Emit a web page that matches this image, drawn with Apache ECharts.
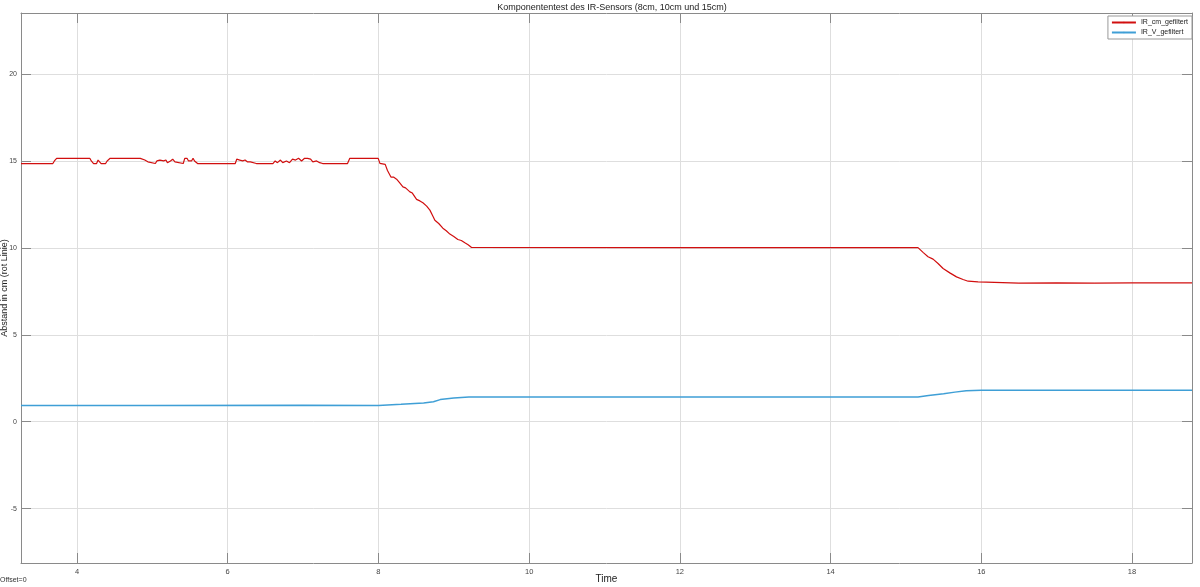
<!DOCTYPE html>
<html>
<head>
<meta charset="utf-8">
<script src="https://cdn.jsdelivr.net/npm/echarts@6/dist/echarts.min.js"></script>
<style>
html,body{margin:0;padding:0;background:#fff;}
#chart{width:1200px;height:587px;}
</style>
</head>
<body>
<div id="chart"></div>
<script>
const titleText = 'Komponententest des IR-Sensors (8cm, 10cm und 15cm)';
const xTicks = [4, 6, 8, 10, 12, 14, 16, 18];
const yTicks = [-5, 0, 5, 10, 15, 20];
const xRange = [3.257, 18.796];
const yRange = [-8.13, 23.51];

const seriesNames = ['IR_cm_gefiltert', 'IR_V_gefiltert'];

const irCm = [
  [3.257,14.85],[3.68,14.85],[3.70,15.0],[3.73,15.15],[4.17,15.15],[4.19,15.0],[4.22,14.85],[4.26,14.85],
  [4.28,15.05],[4.30,15.05],[4.32,14.85],[4.38,14.85],[4.40,15.0],[4.42,14.9],[4.44,15.15],[4.84,15.15],
  [4.86,15.1],[4.90,15.05],[4.92,15.1],[4.94,14.95],[4.96,14.85],[5.04,14.85],[5.06,15.0],[5.08,14.95],
  [5.10,15.05],[5.12,14.95],[5.15,15.0],[5.18,15.05],[5.20,14.9],[5.24,15.0],[5.27,15.1],[5.30,14.95],
  [5.32,14.85],[5.41,14.85],[5.43,15.15],[5.46,15.15],[5.48,15.0],[5.50,15.1],[5.52,15.0],[5.54,15.15],
  [5.56,15.0],[5.58,15.1],[5.60,14.85],[6.00,14.85],[6.01,14.95],[6.02,14.85],[6.10,14.85],[6.12,15.1],
  [6.14,15.15],[6.16,15.05],[6.18,15.1],[6.20,15.0],[6.23,15.05],[6.26,14.95],[6.30,14.95],[6.38,14.85],
  [6.60,14.85],[6.63,15.0],[6.66,14.9],[6.70,15.05],[6.73,14.9],[6.78,15.0],[6.82,14.9],[6.86,15.1],
  [6.90,15.05],[6.94,15.15],[6.98,15.0],[7.02,15.15],[7.06,15.15],[7.10,15.1],[7.13,14.95],[7.18,15.0],
  [7.22,14.9],[7.26,14.85],[7.59,14.85],[7.62,15.15],[7.997,15.15],
  [8.02,14.86],[8.09,14.80],[8.12,14.45],[8.166,14.07],[8.20,14.07],[8.241,13.95],[8.28,13.75],
  [8.325,13.51],[8.36,13.45],[8.418,13.22],[8.45,13.15],[8.506,12.79],[8.55,12.70],[8.590,12.59],
  [8.64,12.40],[8.683,12.17],[8.72,11.85],[8.749,11.59],[8.80,11.40],[8.855,11.13],[8.90,10.98],
  [8.948,10.79],[9.0,10.65],[9.054,10.48],[9.10,10.42],[9.147,10.29],[9.19,10.18],[9.236,10.02],
  [12.0,10.01],[15.16,10.01],
  [15.227,9.74],[15.293,9.49],[15.36,9.35],[15.426,9.10],[15.493,8.81],[15.582,8.56],[15.671,8.33],
  [15.758,8.18],[15.825,8.08],[15.957,8.04],[15.979,7.98],[16.5,7.97],[17.0,7.98],[17.5,7.97],
  [18.0,7.98],[18.796,7.98]
];

const irV = [
  [3.257,0.93],[5.0,0.93],[7.0,0.94],[8.0,0.93],[8.3,1.0],[8.6,1.08],[8.73,1.15],[8.82,1.27],
  [9.0,1.36],[9.2,1.42],[15.16,1.42],[15.3,1.5],[15.5,1.6],[15.65,1.7],[15.8,1.78],[16.0,1.81],
  [18.796,1.81]
];

const FONT = '"Liberation Sans", Arial, sans-serif';
const frameColor = '#8a8a8a';
const gridColor = '#dedede';

function xAxisCfg(pos, show) {
  return {
    type: 'value', position: pos, min: xRange[0], max: xRange[1],
    name: show ? 'Time' : '', nameLocation: 'middle', nameGap: 11, nameMoveOverlap: false,
    nameTextStyle: {fontFamily: FONT, fontSize: 10, color: '#222'},
    axisLine: {show: true, onZero: false, lineStyle: {color: frameColor, width: 1}},
    axisTick: {show: true, inside: true, length: 10, customValues: xTicks, lineStyle: {color: frameColor}},
    axisLabel: {show: show, customValues: xTicks, fontFamily: FONT, fontSize: 7.5, color: '#444', margin: 5},
    splitLine: {show: show, lineStyle: {color: gridColor, width: 1}}
  };
}
function yAxisCfg(pos, show) {
  return {
    type: 'value', position: pos, min: yRange[0], max: yRange[1],
    name: show ? 'Abstand in cm (rot Linie)' : '', nameLocation: 'middle', nameGap: 12, nameMoveOverlap: false,
    nameTextStyle: {fontFamily: FONT, fontSize: 9, color: '#222'},
    axisLine: {show: true, onZero: false, lineStyle: {color: frameColor, width: 1}},
    axisTick: {show: true, inside: true, length: 10, customValues: yTicks, lineStyle: {color: frameColor}},
    axisLabel: {show: show, customValues: yTicks, fontFamily: FONT, fontSize: 7, color: '#444', margin: 4},
    splitLine: {show: show, lineStyle: {color: gridColor, width: 1}}
  };
}

const chart = echarts.init(document.getElementById('chart'), null, {renderer: 'canvas'});
chart.setOption({
  animation: false,
  backgroundColor: '#fff',
  title: {
    text: titleText, left: 607, top: -2, textAlign: 'center',
    textStyle: {fontFamily: FONT, fontSize: 9, fontWeight: 'normal', color: '#222'}
  },
  legend: {
    data: seriesNames, orient: 'vertical', right: 8, top: 16,
    itemWidth: 24, itemHeight: 2, itemGap: 3,
    padding: [3, 4, 3, 3],
    borderColor: '#999', borderWidth: 1, backgroundColor: '#fff',
    textStyle: {fontFamily: FONT, fontSize: 7, color: '#222'}
  },
  grid: {left: 21, right: 8, top: 13, bottom: 24, containLabel: false, outerBoundsMode: 'none'},
  xAxis: [xAxisCfg('bottom', true), xAxisCfg('top', false)],
  yAxis: [yAxisCfg('left', true), yAxisCfg('right', false)],
  graphic: [{
    type: 'text', left: 0, top: 577,
    style: {text: 'Offset=0', fontFamily: FONT, fontSize: 7, fill: '#333'}
  }],
  series: [
    {
      name: seriesNames[0], type: 'line', data: irCm, showSymbol: false, symbol: 'none',
      lineStyle: {color: '#d10f0f', width: 1.2}, itemStyle: {color: '#d10f0f'}
    },
    {
      name: seriesNames[1], type: 'line', data: irV, showSymbol: false, symbol: 'none',
      lineStyle: {color: '#3f9fd6', width: 1.5}, itemStyle: {color: '#3f9fd6'}
    }
  ]
});
</script>
</body>
</html>
